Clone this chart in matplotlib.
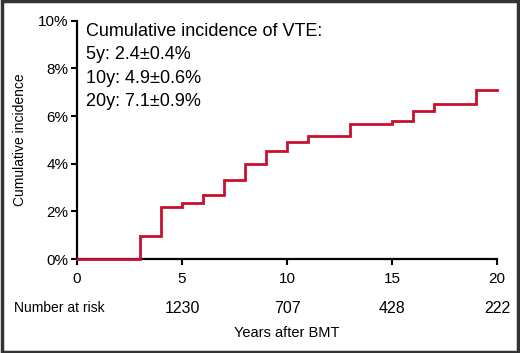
import matplotlib
matplotlib.use("Agg")
import matplotlib.pyplot as plt
from matplotlib.patches import Rectangle
from matplotlib.ticker import FuncFormatter

# step points (years, cumulative incidence in %)
years = [0, 3, 4, 5, 6, 7, 8, 9, 10, 11, 13, 15, 16, 17, 19, 20]
incidence = [0, 0.95, 2.2, 2.37, 2.7, 3.3, 4.0, 4.55, 4.9, 5.17, 5.67, 5.8, 6.23, 6.51, 7.1, 7.1]

risk_years = [5, 10, 15, 20]
at_risk = [1230, 707, 428, 222]

summary = ["Cumulative incidence of VTE:", "5y: 2.4\u00b10.4%", "10y: 4.9\u00b10.6%", "20y: 7.1\u00b10.9%"]
summary_y = [9.54, 8.6, 7.6, 6.63]

plt.rcParams['font.family'] = ['Liberation Sans', 'DejaVu Sans']

fig = plt.figure(figsize=(5.2, 3.53), dpi=100)
ax = fig.add_axes([0.148, 0.266, 0.808, 0.675])

ax.step(years, incidence, where='post', color='#c8102e', lw=2.0,
        solid_joinstyle='miter', clip_on=False, zorder=4)

ax.set_xlim(0, 20)
ax.set_ylim(0, 10)
ax.set_xticks([0, 5, 10, 15, 20])
ax.set_yticks([0, 2, 4, 6, 8, 10])
ax.yaxis.set_major_formatter(FuncFormatter(lambda v, p: "%d%%" % v))
ax.tick_params(direction='out', length=4, width=1.5, labelsize=11)
ax.tick_params(axis='x', pad=5)
ax.tick_params(axis='y', pad=2)
for s in ['top', 'right']:
    ax.spines[s].set_visible(False)
for s in ['left', 'bottom']:
    ax.spines[s].set_linewidth(1.6)

ax.set_ylabel("Cumulative incidence", fontsize=10)
ax.yaxis.set_label_coords(-0.118, 0.5)

# summary text
for line, yy in zip(summary, summary_y):
    ax.text(0.43, yy, line, fontsize=13, va='center', ha='left')

# number at risk row
trans = ax.get_xaxis_transform()
fig.text(14 / 520, 1 - 308 / 353, "Number at risk", fontsize=10, ha='left', va='center')
for x, n in zip(risk_years, at_risk):
    ax.text(x, -0.206, str(n), transform=trans, fontsize=11.5, ha='center', va='center', clip_on=False)
ax.text(10, -0.311, "Years after BMT", transform=trans, fontsize=10.5,
        ha='center', va='center', clip_on=False)

# outer frame
fig.patches.append(Rectangle((0.003, 0.004), 0.993, 0.992, transform=fig.transFigure,
                             fill=False, edgecolor='#333333', lw=2.5))

fig.savefig("out.png", dpi=100)
